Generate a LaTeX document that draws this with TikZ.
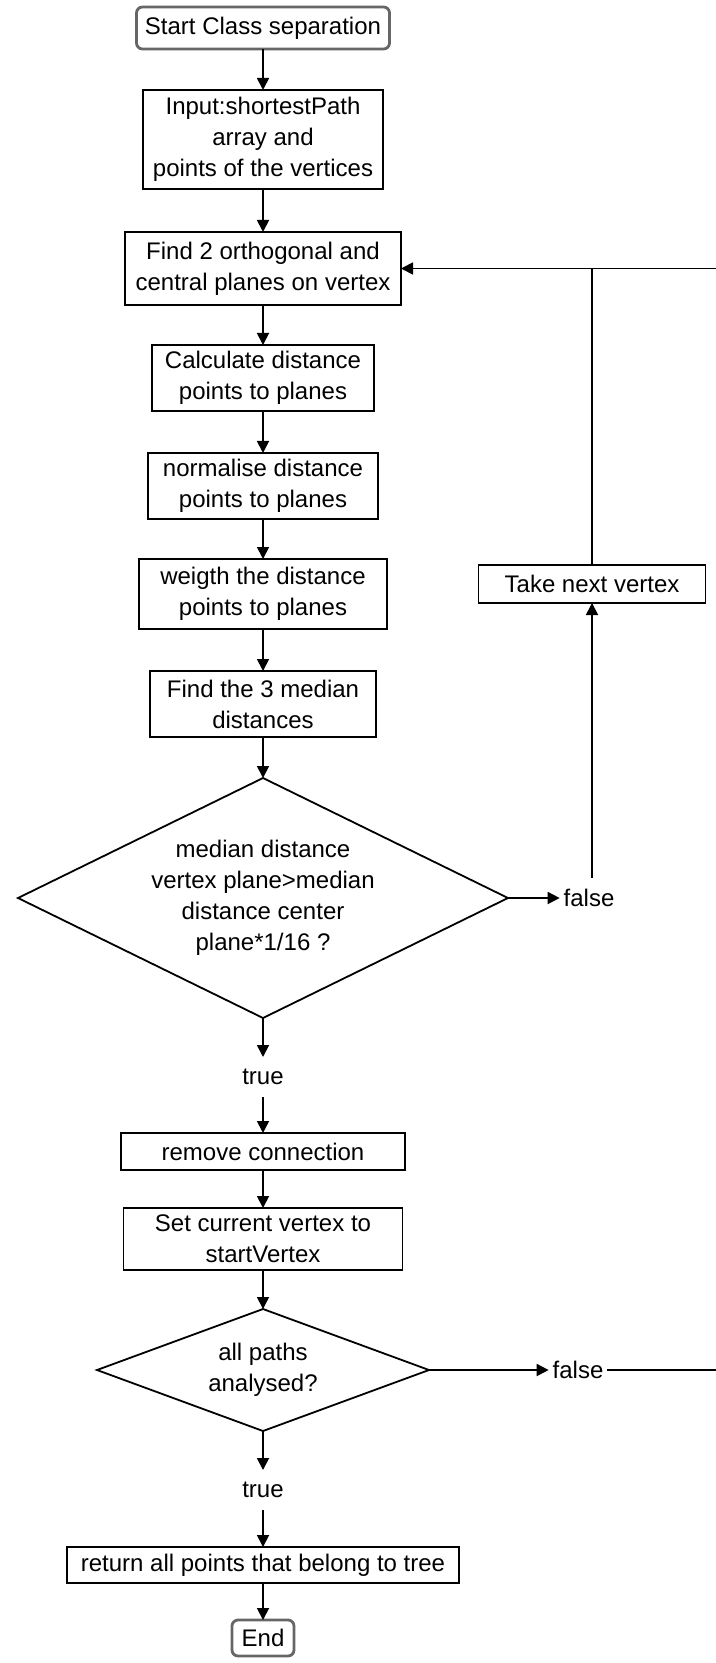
\documentclass[tikz,border=0pt]{standalone}
\usepackage{fontspec}
\setmainfont{Liberation Sans}
\usetikzlibrary{arrows.meta,shapes.geometric}

\begin{document}
\begin{tikzpicture}[x=0.5pt,y=-0.5pt,
  font=\fontsize{12}{15.5}\selectfont,
  every node/.style={inner sep=0pt, outer sep=0pt, align=center},
  proc/.style={draw=black, line width=0.9pt, fill=white},
  term/.style={draw=black!60, line width=1.4pt, rounded corners=3pt, fill=white},
  decision/.style={draw=black, line width=0.9pt, diamond, fill=white},
  lbl/.style={minimum height=20pt, inner xsep=2pt},
  flow/.style={line width=0.9pt, -{Triangle[length=6pt,width=6pt]}},
  plain/.style={line width=0.9pt}]

\useasboundingbox (0,0) rectangle (716,1663);

% main column
\node[term, minimum width=126.5pt, minimum height=21pt] (start) at (263,28) {Start Class separation};
\node[proc, minimum width=120pt, minimum height=49.5pt] (input) at (263,139.5) {Input:shortestPath\\array and\\points of the vertices};
\node[proc, minimum width=138pt, minimum height=36.5pt] (find) at (263,268.5) {Find 2 orthogonal and\\central planes on vertex};
\node[proc, minimum width=111pt, minimum height=33pt] (calc) at (263,378) {Calculate distance\\points to planes};
\node[proc, minimum width=115pt, minimum height=33pt] (norm) at (263,486) {normalise distance\\points to planes};
\node[proc, minimum width=124pt, minimum height=35pt] (weigh) at (263,594) {weigth the distance\\points to planes};
\node[proc, minimum width=113pt, minimum height=33pt] (median) at (263,704) {Find the 3 median\\distances};
\node[decision, aspect=2.04, minimum width=245pt, minimum height=120pt] (dec1) at (263,898) {median distance\\vertex plane>median\\distance center\\plane*1/16 ?};
\node[lbl] (true1) at (263,1077) {true};
\node[proc, minimum width=142pt, minimum height=18.5pt] (remove) at (263,1151.5) {remove connection};
\node[proc, minimum width=139.5pt, minimum height=31pt] (setv) at (263,1239) {Set current vertex to\\startVertex};
\node[decision, aspect=2.72, minimum width=166pt, minimum height=61pt] (dec2) at (263,1370) {all paths\\analysed?};
\node[lbl] (true2) at (263,1490) {true};
\node[proc, minimum width=196pt, minimum height=18pt] (ret) at (263,1565) {return all points that belong to tree};
\node[term, minimum width=31pt, minimum height=18pt] (stop) at (263,1638) {End};

% side branch
\node[proc, minimum width=113.5pt, minimum height=19pt] (take) at (592,584) {Take next vertex};
\node[lbl] (false1) at (589,898) {false};
\node[lbl] (false2) at (578,1370) {false};
\coordinate (rt) at (740,268.5);

% connectors
\draw[flow] (start) -- (input);
\draw[flow] (input) -- (find);
\draw[flow] (find) -- (calc);
\draw[flow] (calc) -- (norm);
\draw[flow] (norm) -- (weigh);
\draw[flow] (weigh) -- (median);
\draw[flow] (median) -- (dec1.north);
\draw[flow] (dec1.south) -- (true1);
\draw[flow] (true1) -- (remove);
\draw[flow] (remove) -- (setv);
\draw[flow] (setv) -- (dec2.north);
\draw[flow] (dec2.south) -- (true2);
\draw[flow] (true2) -- (ret);
\draw[flow] (ret) -- (stop);

\draw[flow] (dec1.east) -- (false1.west);
\draw[flow] (take.south |- false1.north) -- (take.south);
\draw[plain] (take.north) -- (take.north |- find.east);
\draw[flow] (dec2.east) -- (false2.west);
\draw[flow] (false2.east) -| (rt) -- (find.east);
\end{tikzpicture}
\end{document}
